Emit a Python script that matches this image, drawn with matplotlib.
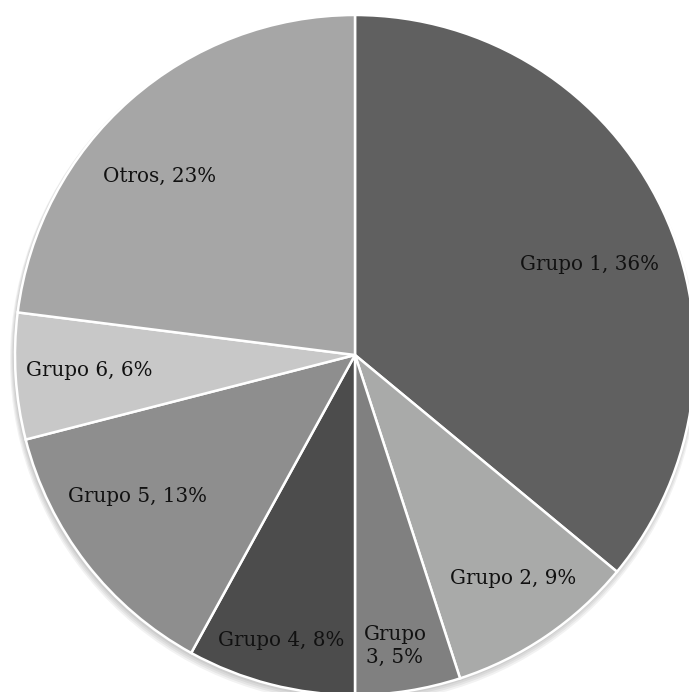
import matplotlib.pyplot as plt
from matplotlib.patches import Circle

# data
labels = ["Grupo 1", "Grupo 2", "Grupo 3", "Grupo 4", "Grupo 5", "Grupo 6", "Otros"]
shares = [36, 9, 5, 8, 13, 6, 23]
colors = ["#606060", "#a9aaa9", "#808080", "#4c4c4c", "#8e8e8e", "#c8c8c8", "#a6a6a6"]

# label anchor points in pixels (x from left, y from top), layout only
label_pos = [(589, 264), (513, 579), (395, 646), (281, 641), (138, 497), (89, 370), (160, 176)]
wrapped = {"Grupo 3"}  # labels that Excel broke onto two lines

W, H = 689, 692
cx, cy, R = 355, 355, 340

fig = plt.figure(figsize=(W / 100, H / 100), dpi=100)
ax = fig.add_axes([0, 0, 1, 1])

# soft shadow under the pie
for i in range(4):
    ax.add_patch(Circle((cx - 1, H - cy - 2 - i), R + 1 + i, color="black", alpha=0.05, lw=0, zorder=0))

ax.pie(shares, colors=colors, startangle=90, counterclock=False,
       center=(cx, H - cy), radius=R, frame=True,
       wedgeprops=dict(edgecolor="white", linewidth=1.8))
ax.set_xlim(0, W)
ax.set_ylim(0, H)
ax.set_aspect("equal")
ax.axis("off")

for lab, s, (x, y) in zip(labels, shares, label_pos):
    txt = f"{lab}, {s}%"
    if lab in wrapped:
        txt = txt.replace(" ", "\n", 1)
    ax.text(x, H - y, txt, ha="center", va="center", fontsize=14.3,
            family="DejaVu Serif", color="#111111", linespacing=1.3)

fig.savefig("out.png", dpi=100)
